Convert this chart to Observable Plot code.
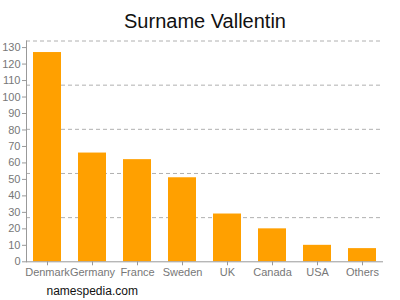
<!DOCTYPE html>
<html>
<head>
<meta charset="utf-8">
<script src="https://cdn.jsdelivr.net/npm/d3@7"></script>
<script src="https://cdn.jsdelivr.net/npm/@observablehq/plot@0.6"></script>
<style>
  html, body { margin: 0; padding: 0; background: #fff; }
  #chart svg { display: block; }
</style>
</head>
<body>
<div id="chart"></div>
<script>
const countries = ["Denmark", "Germany", "France", "Sweden", "UK", "Canada", "USA", "Others"];
const counts = [127, 66, 62, 51, 29, 20, 10, 8];
const yTicks = [0, 10, 20, 30, 40, 50, 60, 70, 80, 90, 100, 110, 120, 130];
const gridValues = [26.8, 53.6, 80.4, 107.2, 134];
const titleText = "Surname Vallentin";
const sourceText = "namespedia.com";

const data = countries.map((c, i) => ({country: c, count: counts[i]}));

const chart = Plot.plot({
  width: 400,
  height: 300,
  marginTop: 40.5,
  marginBottom: 38.7,
  marginLeft: 26,
  marginRight: 17,
  style: {fontFamily: "Liberation Sans, Arial, sans-serif", background: "#fff"},
  x: {domain: countries, label: null, paddingInner: 0.38, paddingOuter: 0.155},
  y: {domain: [0, 134], label: null},
  marks: [
    Plot.ruleY(gridValues, {stroke: "#b0b0b0", strokeDasharray: "4,3", strokeWidth: 1}),
    Plot.barY(data, {x: "country", y: "count", fill: "#FFA000"}),
    Plot.frame({anchor: "left", stroke: "#999"}),
    Plot.ruleY([0], {stroke: "#999"}),
    Plot.axisY({ticks: yTicks, tickSize: 4, tickPadding: 2, fontSize: 11, color: "#777", stroke: "#999", label: null}),
    Plot.axisX({tickSize: 4, tickPadding: 2, fontSize: 11, color: "#777", stroke: "#999", label: null}),
    Plot.text([titleText], {frameAnchor: "top", dy: -27, fontSize: 20, fill: "#111", text: d => d}),
    Plot.text([sourceText], {frameAnchor: "bottom-left", dx: 20, dy: 33, fontSize: 12, fill: "#111", textAnchor: "start", text: d => d})
  ]
});
document.getElementById("chart").appendChild(chart);
</script>
</body>
</html>
